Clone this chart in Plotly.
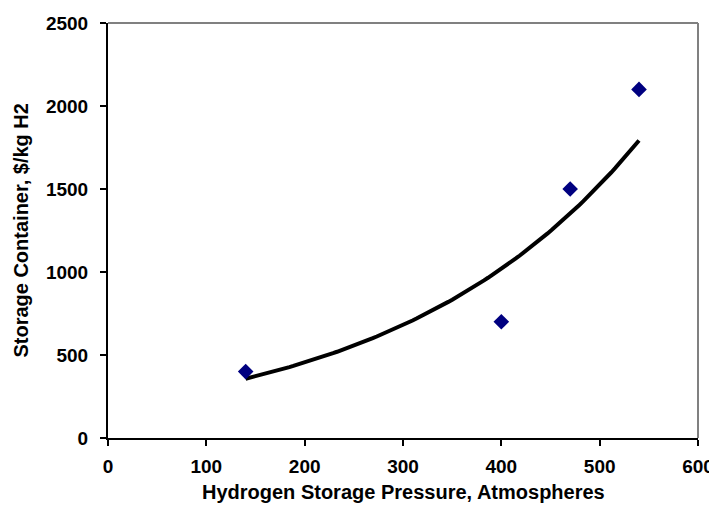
import numpy as np
import plotly.graph_objects as go

pressure = [140, 400, 470, 540]
cost = [400, 700, 1500, 2100]
x_ticks = [0, 100, 200, 300, 400, 500, 600]
y_ticks = [0, 500, 1000, 1500, 2000, 2500]
x_title = "Hydrogen Storage Pressure, Atmospheres"
y_title = "Storage Container, $/kg H2"

# Exponential trendline fitted to the data (as in the original spreadsheet chart)
b, a = np.polyfit(pressure, np.log(cost), 1)
xt = np.linspace(min(pressure), max(pressure), 100)
yt = np.exp(a + b * xt)

FAM = "Liberation Sans, Arial, sans-serif"
tick_font = dict(family=FAM, size=19, color="black", weight="bold")
title_font = dict(family=FAM, size=20, color="black", weight="bold")

fig = go.Figure()
fig.add_trace(go.Scatter(x=xt, y=yt, mode="lines",
                         line=dict(color="black", width=4), hoverinfo="skip"))
fig.add_trace(go.Scatter(x=pressure, y=cost, mode="markers",
                         marker=dict(symbol="diamond", size=12, color="#000080")))

axis_common = dict(showgrid=False, zeroline=False, showline=True, linecolor="black",
                   linewidth=2, ticks="outside", ticklen=6, tickwidth=2, tickcolor="black",
                   tickfont=tick_font, automargin=False)

# The page adds an 8px body margin, so the figure is 8px smaller than the window.
fig.update_layout(
    width=709, height=500,
    margin=dict(l=100, r=19, t=15, b=70),
    paper_bgcolor="white", plot_bgcolor="white",
    showlegend=False,
    xaxis=dict(range=[0, 600], tickvals=x_ticks, ticklabelstandoff=4, **axis_common),
    yaxis=dict(range=[0, 2500], tickvals=y_ticks, ticklabelstandoff=8, **axis_common),
    shapes=[
        dict(type="line", xref="paper", yref="paper", x0=0, x1=1, y0=1, y1=1,
             line=dict(color="#808080", width=2)),
        dict(type="line", xref="paper", yref="paper", x0=1, x1=1, y0=0, y1=1,
             line=dict(color="#808080", width=2)),
    ],
    annotations=[
        dict(text=x_title, xref="paper", yref="paper", x=0.5, y=-0.13,
             xanchor="center", yanchor="middle", showarrow=False, font=title_font),
        dict(text=y_title, xref="paper", yref="paper", x=-0.149, y=0.5,
             xanchor="center", yanchor="middle", showarrow=False, textangle=-90,
             font=title_font),
    ],
)

fig.write_html("out.html")
